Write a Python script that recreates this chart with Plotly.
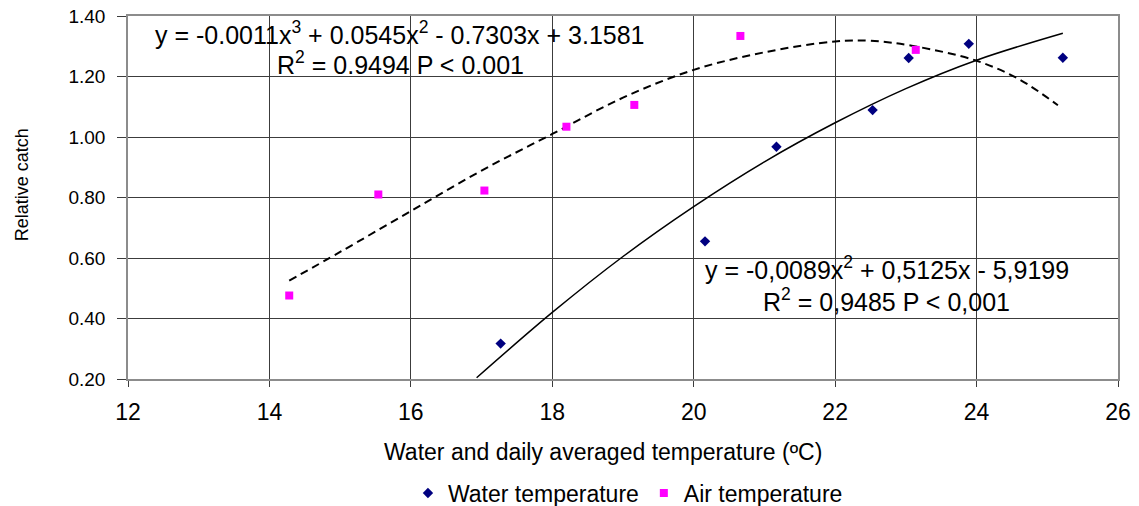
import plotly.graph_objects as go

# Observed data
water_x = [17.27, 20.16, 21.17, 22.53, 23.04, 23.89, 25.22]
water_y = [0.317, 0.655, 0.968, 1.089, 1.261, 1.308, 1.262]
air_x = [14.28, 15.54, 17.04, 18.20, 19.16, 20.66, 23.14]
air_y = [0.476, 0.810, 0.823, 1.034, 1.106, 1.334, 1.288]

# Trend lines
air_trend_x = [14.28, 15.0, 16.0, 17.0, 18.0, 19.0, 20.0, 21.0, 22.0, 22.5, 23.1, 24.0, 24.6, 25.15]
air_trend_y = [0.525, 0.62, 0.755, 0.889, 1.01, 1.13, 1.222, 1.28, 1.316, 1.318, 1.301, 1.252, 1.191, 1.105]
water_trend_x = [16.93, 18.0, 19.0, 20.0, 21.0, 22.0, 23.0, 24.0, 25.22]
water_trend_y = [0.204, 0.42, 0.605, 0.77, 0.918, 1.047, 1.16, 1.254, 1.343]

x_ticks = [12, 14, 16, 18, 20, 22, 24, 26]
y_ticks = [0.2, 0.4, 0.6, 0.8, 1.0, 1.2, 1.4]

FONT = "Liberation Sans, Arial, sans-serif"

fig = go.Figure()
fig.add_trace(go.Scatter(x=air_trend_x, y=air_trend_y, mode="lines",
                         line=dict(color="black", width=2, dash="8px,5px", shape="spline"),
                         showlegend=False, hoverinfo="skip"))
fig.add_trace(go.Scatter(x=water_trend_x, y=water_trend_y, mode="lines",
                         line=dict(color="black", width=1.5, shape="spline"),
                         showlegend=False, hoverinfo="skip"))
fig.add_trace(go.Scatter(x=water_x, y=water_y, mode="markers", name="Water temperature",
                         marker=dict(symbol="diamond", size=8, color="#000080")))
fig.add_trace(go.Scatter(x=air_x, y=air_y, mode="markers", name="Air temperature",
                         marker=dict(symbol="square", size=8, color="#FF00FF")))

fig.update_layout(
    width=1139, height=506,
    margin=dict(l=128, r=21, t=16, b=127, autoexpand=False),
    paper_bgcolor="white", plot_bgcolor="white",
    font=dict(family=FONT, color="black"),
    showlegend=True,
    legend=dict(orientation="h", x=0.505, y=-0.314, xanchor="center", yanchor="middle",
                font=dict(size=23, family=FONT), itemwidth=30, tracegroupgap=0),
)
fig.update_xaxes(range=[12, 26], tickvals=x_ticks, ticktext=[str(v) for v in x_ticks],
                 showgrid=True, gridcolor="#3c3c3c", gridwidth=1,
                 showline=True, linecolor="#8c8c8c", linewidth=2, mirror=True,
                 ticks="outside", ticklen=6, tickcolor="#3c3c3c", tickwidth=1,
                 ticklabelstandoff=5, automargin=False,
                 tickfont=dict(size=23, family=FONT), zeroline=False)
fig.update_yaxes(range=[0.2, 1.4], tickvals=y_ticks, ticktext=[f"{v:.2f}" for v in y_ticks],
                 showgrid=True, gridcolor="#3c3c3c", gridwidth=1,
                 showline=True, linecolor="#8c8c8c", linewidth=1.5, mirror=True,
                 ticks="outside", ticklen=9, tickcolor="#3c3c3c", tickwidth=1,
                 ticklabelstandoff=8, automargin=False,
                 tickfont=dict(size=19, family=FONT), zeroline=False)

ann = dict(showarrow=False, font=dict(size=25, family=FONT, color="black"),
           xanchor="center", yanchor="middle")
fig.add_annotation(x=15.85, y=1.344, text="y = -0.0011x<sup>3</sup> + 0.0545x<sup>2</sup> - 0.7303x + 3.1581", **ann)
fig.add_annotation(x=15.85, y=1.245, text="R<sup>2</sup> = 0.9494 P < 0.001", **ann)
fig.add_annotation(x=22.73, y=0.567, text="y = -0,0089x<sup>2</sup> + 0,5125x - 5,9199", **ann)
fig.add_annotation(x=22.73, y=0.461, text="R<sup>2</sup> = 0,9485 P < 0,001", **ann)

fig.add_annotation(xref="paper", yref="paper", x=0.48, y=-0.201, showarrow=False,
                   text="Water and daily averaged temperature (ºC)",
                   font=dict(size=23, family=FONT), xanchor="center", yanchor="middle")
fig.add_annotation(xref="paper", yref="paper", x=-0.107, y=0.534, showarrow=False,
                   text="Relative catch", textangle=-90,
                   font=dict(size=18, family=FONT), xanchor="center", yanchor="middle")

fig.write_html("out.html", config={"displayModeBar": False},
               post_script="document.body.style.margin='0';document.body.style.overflow='hidden';")
